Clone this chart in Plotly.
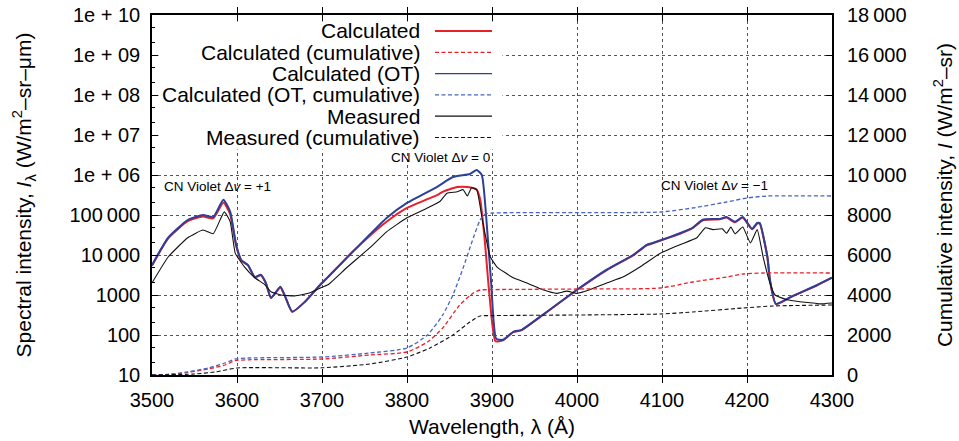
import plotly.graph_objects as go

# ---------------- data ----------------
# Calculated (optically thin) spectral intensity, W/m^2-sr-um
wl_ot = [3500, 3519, 3542, 3560, 3572, 3584, 3592, 3599, 3605, 3613, 3621, 3628, 3634,
         3640, 3651, 3656, 3665, 3680, 3698, 3707, 3736, 3756, 3776, 3800, 3835, 3854,
         3874, 3882, 3888, 3893, 3899, 3905, 3913, 3925, 3935, 3956, 4000, 4035, 4066,
         4082, 4089, 4109, 4121, 4136, 4148, 4168, 4176, 4186, 4195, 4206, 4212, 4215,
         4224, 4227, 4234, 4254, 4282, 4300]
i_ot = [5600, 27000, 75000, 100000, 89000, 240000, 120000, 18000, 7500, 5600, 2800, 3200, 2000,
        850, 1600, 1000, 380, 680, 1800, 2800, 12000, 32000, 84000, 200000, 500000, 890000,
        1060000, 1330000, 1000000, 100000, 2000, 80, 76, 120, 135, 280, 1350, 4300, 10000,
        18000, 20000, 28000, 35000, 48000, 76000, 80000, 89000, 68000, 89000, 45000, 63000, 63000,
        9000, 2400, 600, 950, 1750, 2700]

# Calculated spectral intensity
wl_calc = [3500, 3519, 3542, 3560, 3572, 3584, 3592, 3599, 3605, 3613, 3621, 3628, 3634,
           3640, 3651, 3656, 3665, 3680, 3698, 3707, 3736, 3756, 3776, 3800, 3836, 3842,
           3859, 3871, 3882, 3886, 3891, 3897, 3904, 3913, 3925, 3935, 3956, 4000, 4035, 4066,
           4082, 4089, 4109, 4121, 4136, 4148, 4168, 4176, 4186, 4195, 4206, 4212, 4215,
           4224, 4227, 4234, 4254, 4282, 4300]
i_calc = [5400, 26000, 70000, 92000, 82000, 205000, 105000, 17000, 7300, 5500, 2750, 3100, 1950,
          840, 1550, 980, 380, 680, 1800, 2800, 12000, 30000, 68000, 150000, 320000, 380000,
          500000, 500000, 430000, 250000, 30000, 1000, 70, 74, 118, 132, 275, 1330, 4200, 9800,
          17500, 19500, 27500, 34000, 47000, 74000, 78000, 86000, 66000, 86000, 44000, 61000, 61000,
          8800, 2300, 590, 940, 1730, 2700]

# Measured spectral intensity
wl_meas = [3500, 3519, 3542, 3560, 3572, 3585, 3592, 3598, 3609, 3621, 3633, 3640, 3652,
           3668, 3684, 3698, 3707, 3729, 3756, 3776, 3800, 3824, 3839, 3847, 3859, 3866,
           3871, 3876, 3882, 3889, 3898, 3906, 3925, 3941, 3960, 3976, 3988, 4000, 4015,
           4035, 4054, 4074, 4098, 4121, 4141, 4151, 4160, 4171, 4176, 4181, 4186, 4195,
           4204, 4212, 4219, 4227, 4233, 4247, 4262, 4278, 4286, 4300]
i_meas = [2000, 8900, 27000, 42000, 34000, 120000, 68000, 11000, 5000, 2700, 1800, 1200, 1000,
          950, 1100, 1500, 1800, 4800, 15000, 38000, 85000, 150000, 220000, 350000, 380000, 430000,
          300000, 480000, 430000, 68000, 9000, 5000, 2700, 2000, 1350, 1100, 1250, 1100, 1350,
          2000, 2800, 5000, 11000, 18000, 27000, 48000, 43000, 45000, 35000, 50000, 34000, 50000,
          20000, 43000, 8900, 2000, 1000, 760, 680, 630, 600, 630]

# Cumulative intensities, W/m^2-sr
wl_cum_ot = [3500, 3520, 3542, 3566, 3586, 3598, 3613, 3700, 3756, 3800, 3824, 3842, 3854,
             3866, 3878, 3886, 3892, 3901, 4000, 4098, 4136, 4176, 4200, 4224, 4300]
c_ot = [0, 30, 150, 350, 600, 800, 850, 900, 1100, 1350, 2000, 3000, 4000,
        5350, 6850, 7750, 8050, 8100, 8120, 8150, 8350, 8650, 8850, 8950, 8950]

wl_cum_calc = [3500, 3520, 3542, 3566, 3586, 3598, 3613, 3700, 3756, 3800, 3824, 3842, 3862,
               3878, 3886, 3901, 4000, 4098, 4136, 4176, 4195, 4219, 4300]
c_calc = [0, 30, 130, 300, 500, 720, 760, 800, 1000, 1150, 1650, 2350, 3500,
          4100, 4250, 4270, 4300, 4350, 4650, 4900, 5050, 5100, 5100]

wl_cum_meas = [3500, 3550, 3574, 3600, 3700, 3756, 3800, 3827, 3854, 3874, 3886, 3901,
               4000, 4098, 4136, 4195, 4231, 4300]
c_meas = [0, 50, 150, 350, 360, 550, 900, 1350, 2000, 2650, 2950, 2970,
          3000, 3050, 3150, 3350, 3450, 3500]

# Axis ticks
x_ticks = [3500, 3600, 3700, 3800, 3900, 4000, 4100, 4200, 4300]
y_tickvals = [10, 100, 1000, 1e4, 1e5, 1e6, 1e7, 1e8, 1e9, 1e10]
y_ticktext = ["10", "100", "1000", "10\u2009000", "100\u2009000",
              "1e + 06", "1e + 07", "1e + 08", "1e + 09", "1e + 10"]
y2_tickvals = list(range(0, 18001, 2000))
y2_ticktext = ["0", "2000", "4000", "6000", "8000", "10\u2009000",
               "12\u2009000", "14\u2009000", "16\u2009000", "18\u2009000"]

labels = ["Calculated", "Calculated (cumulative)", "Calculated (OT)",
          "Calculated (OT, cumulative)", "Measured", "Measured (cumulative)"]

RED = "#e8202a"
BLUE = "#2e3f98"
BLUE_D = "#4a64c4"
BLACK = "#111111"
FONT = "Liberation Sans, Arial, Helvetica, sans-serif"
DASH = "4px,2.5px"

fig = go.Figure()

# cumulative curves on the right axis
fig.add_trace(go.Scatter(x=wl_cum_calc, y=c_calc, yaxis="y2", mode="lines",
                         line=dict(color=RED, width=1.3, dash=DASH, shape="spline", smoothing=0.6)))
fig.add_trace(go.Scatter(x=wl_cum_ot, y=c_ot, yaxis="y2", mode="lines",
                         line=dict(color=BLUE_D, width=1.3, dash=DASH, shape="spline", smoothing=0.6)))
fig.add_trace(go.Scatter(x=wl_cum_meas, y=c_meas, yaxis="y2", mode="lines",
                         line=dict(color=BLACK, width=1.1, dash=DASH, shape="spline", smoothing=0.6)))

# spectral curves on the left (log) axis
fig.add_trace(go.Scatter(x=wl_calc, y=i_calc, mode="lines",
                         line=dict(color=RED, width=2.0, shape="spline", smoothing=0.5)))
fig.add_trace(go.Scatter(x=wl_ot, y=i_ot, mode="lines",
                         line=dict(color=BLUE, width=2.0, shape="spline", smoothing=0.5)))
fig.add_trace(go.Scatter(x=wl_meas, y=i_meas, mode="lines",
                         line=dict(color=BLACK, width=1.1, shape="spline", smoothing=0.4)))

for tr in fig.data:
    tr.showlegend = False

# ---------------- key (right-aligned text, sample line on the right) ----------------
PL, PR, PT, PB = 152, 832, 15, 375
W, H = PR - PL, PB - PT
TICKLEN = 6


def px(x):
    return (x - PL) / W


def py(y):
    return (PB - y) / H


# white panel behind the key; kept clear of the inside tick marks
shapes = [dict(type="rect", xref="paper", yref="paper", x0=px(PL + TICKLEN + 1), x1=px(502),
               y0=py(149), y1=py(PT + TICKLEN + 1), fillcolor="white",
               opacity=1, line=dict(color="white", width=1), layer="above")]
key_styles = [(RED, 2.0, "solid"), (RED, 1.2, "dash"), (BLUE, 1.2, "solid"),
              (BLUE_D, 1.2, "dash"), (BLACK, 1.2, "solid"), (BLACK, 1.1, "dash")]
annotations = []
for k, (lab, (col, w, d)) in enumerate(zip(labels, key_styles)):
    yrow = 31 + 21.3 * k
    annotations.append(dict(xref="paper", yref="paper", x=px(422), y=py(yrow), text=lab,
                            showarrow=False, xanchor="right", yanchor="middle",
                            font=dict(family=FONT, size=21, color="black")))
    shapes.append(dict(type="line", xref="paper", yref="paper", x0=px(435), x1=px(492),
                       y0=py(yrow), y1=py(yrow), layer="above",
                       line=dict(color=col, width=w, dash=DASH if d == "dash" else "solid")))

# band labels
for txt, xx, yy in [("CN Violet \u0394<i>v</i> = +1", 162, 186),
                    ("CN Violet \u0394<i>v</i> = 0", 389, 157),
                    ("CN Violet \u0394<i>v</i> = \u22121", 659, 185)]:
    annotations.append(dict(xref="paper", yref="paper", x=px(xx), y=py(yy), text=txt,
                            showarrow=False, xanchor="left", yanchor="middle",
                            font=dict(family=FONT, size=13.5, color="black")))

grid = dict(showgrid=True, gridcolor="#555555", gridwidth=1, griddash="dot")

fig.update_layout(
    width=959, height=441,
    margin=dict(l=PL, r=959 - PR, t=PT, b=441 - PB, pad=0, autoexpand=False),
    paper_bgcolor="white", plot_bgcolor="white",
    font=dict(family=FONT, size=20, color="black"),
    shapes=shapes, annotations=annotations,
    xaxis=dict(range=[3500, 4300], tickvals=x_ticks, ticks="inside", ticklen=TICKLEN,
               tickcolor="black", showline=True, linecolor="black", linewidth=1.5,
               mirror="allticks", zeroline=False, ticklabelstandoff=6, automargin=False,
               title=dict(text="Wavelength, \u03bb (\u00c5)", standoff=10,
                          font=dict(size=21)), **grid),
    yaxis=dict(type="log", range=[1, 10], tickvals=y_tickvals, ticktext=y_ticktext,
               ticks="inside", ticklen=TICKLEN, tickcolor="black", showline=True,
               linecolor="black", linewidth=1.5, mirror=True, zeroline=False,
               ticklabelstandoff=6, automargin=False,
               minor=dict(ticks="inside", ticklen=3, dtick="D2", tickcolor="black", showgrid=False),
               title=dict(text="Spectral intensity, <i>I</i><sub>\u03bb</sub> (W/m<sup>2</sup>\u2013sr\u2013\u03bcm)",
                          standoff=32, font=dict(size=21)), **grid),
    yaxis2=dict(overlaying="y", side="right", range=[0, 18000], tickvals=y2_tickvals,
                ticktext=y2_ticktext, ticks="inside", ticklen=TICKLEN, tickcolor="black",
                showgrid=False, zeroline=False, showline=False, ticklabelstandoff=14,
                automargin=False,
                title=dict(text="Cumulative intensity, <i>I</i> (W/m<sup>2</sup>\u2013sr)",
                           standoff=31, font=dict(size=21))),
)

fig.write_html("out.html")
